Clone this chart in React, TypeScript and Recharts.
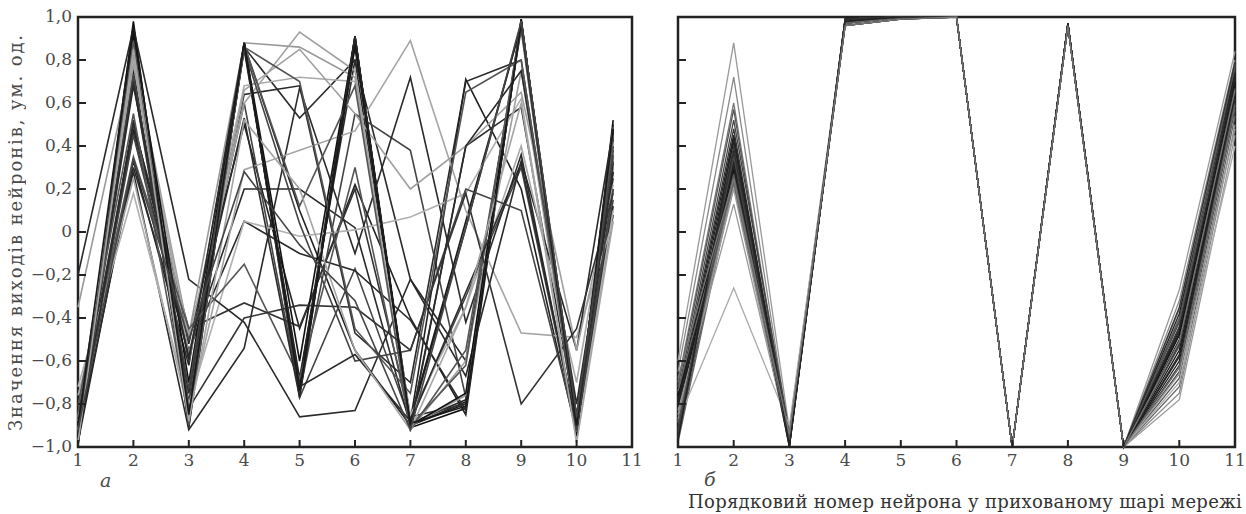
import { LineChart, Line, XAxis, YAxis, ReferenceArea } from 'recharts'

// neuron numbers on the x axis and output values on the y axis
const neuronTicks = [1, 2, 3, 4, 5, 6, 7, 8, 9, 10, 11]
const valueTicks = [-1, -0.8, -0.6, -0.4, -0.2, 0, 0.2, 0.4, 0.6, 0.8, 1]

// panel "а": the last neuron is plotted a bit before the frame edge
const neuronPosA = [1, 2, 3, 4, 5, 6, 7, 8, 9, 10, 10.66]
const neuronPosB = [1, 2, 3, 4, 5, 6, 7, 8, 9, 10, 11]

// panel а — outputs of the hidden layer, one row per sample
const outputsA: number[][] = [
  [-0.99, 0.98, -0.91, 0.88, -0.76, 0.91, -0.91, -0.82, 0.99, -0.93, 0.52],
  [-0.96, 0.94, -0.89, 0.88, -0.74, 0.9, -0.9, -0.8, 0.98, -0.91, 0.47],
  [-0.93, 0.9, -0.87, 0.87, -0.73, 0.89, -0.89, -0.78, 0.97, -0.89, 0.43],
  [-0.9, 0.87, -0.84, 0.86, 0.53, 0.8, -0.88, 0.02, 0.97, -0.88, 0.38],
  [-0.87, 0.83, -0.82, 0.85, -0.7, 0.86, -0.87, 0.05, 0.96, -0.86, 0.33],
  [-0.95, 0.76, -0.88, 0.87, 0.1, -0.55, -0.9, -0.79, 0.98, -0.9, 0.46],
  [-0.92, 0.73, -0.79, 0.88, -0.77, -0.17, -0.88, -0.3, 0.3, -0.92, 0.3],
  [-0.85, 0.7, -0.75, 0.86, -0.68, 0.8, -0.22, -0.6, 0.96, -0.89, 0.4],
  [-0.97, 0.51, -0.52, 0.64, 0.68, -0.47, -0.7, 0.7, 0.8, -0.85, 0.25],
  [-0.94, 0.48, -0.48, 0.5, -0.45, 0.22, -0.4, -0.85, 0.98, -0.87, 0.35],
  [-0.9, 0.46, -0.56, 0.2, 0.2, 0.02, -0.9, 0.4, 0.58, -0.88, 0.28],
  [-0.88, 0.5, -0.45, -0.33, -0.44, 0.2, -0.86, -0.8, 0.98, -0.9, 0.44],
  [-0.93, 0.45, -0.58, 0.6, -0.75, 0.55, 0.38, -0.77, 0.96, -0.91, 0.15],
  [-0.98, 0.33, -0.62, 0.88, -0.7, 0.91, -0.88, 0.71, 0.2, -0.94, 0.12],
  [-0.95, 0.3, -0.55, 0.05, -0.1, -0.18, -0.41, -0.83, 0.98, -0.9, 0.2],
  [-0.8, 0.28, -0.92, -0.54, 0.67, -0.1, 0.72, -0.42, 0.36, -0.92, 0.08],
  [-0.76, 0.25, -0.85, 0.29, 0.38, 0.47, 0.89, 0.1, -0.47, -0.49, 0.05],
  [-0.72, 0.18, -0.8, 0.05, -0.02, 0.01, 0.07, 0.18, 0.62, -0.97, 0.1],
  [-0.2, 0.95, -0.22, -0.42, -0.86, -0.83, -0.22, -0.67, 0.33, -0.55, 0.48],
  [-0.35, 0.82, -0.48, 0.88, 0.86, 0.72, -0.9, -0.76, 0.97, -0.88, 0.42],
  [-0.88, 0.86, -0.57, 0.6, 0.93, 0.75, -0.92, -0.6, 0.75, -0.9, 0.35],
  [-0.92, 0.8, -0.5, 0.68, 0.72, 0.7, -0.85, -0.35, 0.4, -0.7, 0.3],
  [-0.86, 0.78, -0.6, 0.66, 0.85, 0.55, 0.2, 0.4, 0.65, -0.55, 0.22],
  [-0.99, 0.92, -0.7, 0.88, -0.6, 0.91, -0.9, -0.75, 0.99, -0.95, 0.5],
  [-0.97, 0.89, -0.9, 0.87, 0.12, 0.68, -0.92, -0.55, 0.94, -0.93, 0.49],
  [-0.91, 0.72, -0.73, 0.85, 0.04, -0.6, -0.55, 0.2, 0.1, -0.92, 0.2],
  [-0.84, 0.35, -0.45, -0.15, -0.68, 0.3, -0.9, -0.62, 0.98, -0.89, 0.45],
  [-0.96, 0.52, -0.58, 0.53, -0.77, 0.91, -0.91, 0.4, 0.75, -0.8, 0.28],
  [-0.89, 0.7, -0.82, -0.4, -0.34, -0.35, -0.55, 0.18, -0.8, -0.45, 0.18],
  [-0.94, 0.68, -0.6, 0.88, -0.72, -0.57, -0.88, -0.28, 0.32, -0.9, 0.32],
  [-0.81, 0.55, -0.86, 0.86, 0.7, -0.45, -0.75, 0.65, 0.8, -0.88, 0.4],
  [-0.98, 0.85, -0.88, 0.52, 0.2, -0.55, -0.92, -0.35, 0.6, -0.98, 0.05],
  [-0.9, 0.96, -0.85, 0.88, -0.74, 0.87, -0.89, -0.81, 0.97, -0.9, 0.48],
  [-0.92, 0.34, -0.5, 0.28, -0.06, -0.32, -0.92, 0.02, 0.98, -0.86, 0.36],
]
const shadeA = [
  '#111', '#1a1a1a', '#222', '#2a2a2a', '#1a1a1a', '#222', '#444', '#2a2a2a',
  '#2a2a2a', '#222', '#2a2a2a', '#333', '#444', '#222', '#2a2a2a', '#2a2a2a',
  '#a5a5a5', '#b0b0b0', '#2a2a2a', '#999', '#a0a0a0', '#aaa', '#a0a0a0', '#111',
  '#555', '#444', '#555', '#2a2a2a', '#333', '#2a2a2a', '#555', '#a5a5a5', '#1a1a1a', '#444',
]

// panel б — outputs after training
const outputsB: number[][] = [
  [-0.6, 0.88, -0.92, 0.99, 1, 1, -1, 0.97, -1, -0.27, 0.84],
  [-0.65, 0.72, -0.95, 0.98, 1, 1, -1, 0.97, -1, -0.32, 0.8],
  [-0.7, 0.6, -0.97, 0.97, 1, 1, -1, 0.96, -1, -0.36, 0.78],
  [-0.72, 0.57, -0.98, 0.99, 1, 1, -1, 0.97, -1, -0.4, 0.76],
  [-0.75, 0.52, -0.93, 0.96, 0.99, 1, -1, 0.96, -1, -0.42, 0.75],
  [-0.78, 0.48, -0.99, 0.98, 1, 1, -1, 0.97, -1, -0.45, 0.73],
  [-0.8, 0.45, -0.96, 0.97, 1, 1, -1, 0.96, -1, -0.47, 0.72],
  [-0.82, 0.42, -1, 0.99, 1, 1, -1, 0.97, -1, -0.5, 0.7],
  [-0.84, 0.38, -0.97, 0.96, 0.99, 1, -1, 0.96, -1, -0.52, 0.68],
  [-0.86, 0.36, -0.98, 0.98, 1, 1, -1, 0.97, -1, -0.55, 0.66],
  [-0.88, 0.34, -0.95, 0.97, 1, 1, -1, 0.96, -1, -0.57, 0.65],
  [-0.9, 0.32, -0.99, 0.99, 1, 1, -1, 0.97, -1, -0.6, 0.63],
  [-0.92, 0.3, -0.96, 0.96, 0.99, 1, -1, 0.96, -1, -0.62, 0.62],
  [-0.94, 0.28, -1, 0.98, 1, 1, -1, 0.97, -1, -0.65, 0.6],
  [-0.96, 0.26, -0.97, 0.97, 1, 1, -1, 0.96, -1, -0.68, 0.57],
  [-0.98, 0.24, -0.98, 0.99, 1, 1, -1, 0.97, -1, -0.72, 0.54],
  [-0.85, 0.22, -0.94, 0.96, 0.99, 1, -1, 0.96, -1, -0.75, 0.5],
  [-0.87, 0.2, -0.99, 0.98, 1, 1, -1, 0.97, -1, -0.78, 0.45],
  [-0.88, -0.26, -0.9, 0.97, 1, 1, -1, 0.96, -1, -0.7, 0.4],
  [-0.83, 0.13, -0.97, 0.98, 1, 1, -1, 0.97, -1, -0.66, 0.48],
  [-0.79, 0.33, -0.98, 0.98, 1, 1, -1, 0.97, -1, -0.38, 0.74],
  [-0.91, 0.37, -0.96, 0.97, 1, 1, -1, 0.96, -1, -0.44, 0.71],
  [-0.76, 0.29, -0.99, 0.99, 1, 1, -1, 0.97, -1, -0.48, 0.69],
  [-0.93, 0.35, -0.97, 0.96, 0.99, 1, -1, 0.96, -1, -0.53, 0.67],
  [-0.81, 0.31, -1, 0.98, 1, 1, -1, 0.97, -1, -0.58, 0.64],
  [-0.89, 0.27, -0.95, 0.97, 1, 1, -1, 0.96, -1, -0.41, 0.77],
  [-0.95, 0.4, -0.98, 0.99, 1, 1, -1, 0.97, -1, -0.35, 0.79],
  [-0.74, 0.23, -0.97, 0.97, 1, 1, -1, 0.96, -1, -0.63, 0.59],
  [-0.97, 0.44, -0.99, 0.98, 1, 1, -1, 0.97, -1, -0.46, 0.7],
  [-0.68, 0.25, -0.94, 0.96, 0.99, 1, -1, 0.96, -1, -0.51, 0.66],
]
const shadeB = [
  '#999', '#888', '#777', '#555', '#444', '#333', '#222', '#222', '#1a1a1a', '#111',
  '#222', '#1a1a1a', '#333', '#444', '#555', '#666', '#888', '#999', '#aaa', '#999',
  '#222', '#333', '#111', '#444', '#222', '#555', '#333', '#666', '#222', '#777',
]

const serif = '"DejaVu Serif", "Liberation Serif", serif'
const ink = '#4a4a4a'

const fmtValue = (v: number) =>
  v === 0 ? '0' : v.toFixed(1).replace('.', ',').replace('-', '\u2212')

function toRows(pos: number[], lines: number[][]) {
  return pos.map((x, i) => {
    const row: Record<string, number> = { x }
    lines.forEach((l, j) => (row['s' + j] = l[i]))
    return row
  })
}

function YTick({ x, y, payload, showLabel }: any) {
  return (
    <g>
      <line x1={x + 6} x2={x + 14} y1={y} y2={y} stroke="#222" strokeWidth={2} />
      {showLabel && (
        <text x={x} y={y} dy={5} textAnchor="end" fill={ink} fontSize={17} fontFamily={serif}>
          {fmtValue(payload.value)}
        </text>
      )}
    </g>
  )
}

function XTick({ x, y, payload }: any) {
  return (
    <g>
      <line x1={x} x2={x} y1={y - 4} y2={y - 11} stroke="#222" strokeWidth={2} />
      <text x={x} y={y} dy={15} textAnchor="middle" fill={ink} fontSize={17} fontFamily={serif}>
        {payload.value}
      </text>
    </g>
  )
}

function Panel({ rows, count, shades, width, yWidth, right, labels, strokeW }: any) {
  return (
    <LineChart width={width} height={514} data={rows} margin={{ top: 17, right, bottom: 0, left: 0 }}>
      <XAxis
        type="number"
        dataKey="x"
        domain={[1, 11]}
        ticks={neuronTicks}
        height={67}
        axisLine={false}
        tickLine={false}
        tickSize={0}
        tickMargin={4}
        tick={<XTick />}
        interval={0}
      />
      <YAxis
        type="number"
        domain={[-1, 1]}
        ticks={valueTicks}
        width={yWidth}
        axisLine={false}
        tickLine={false}
        tickSize={0}
        tickMargin={6}
        tick={<YTick showLabel={labels} />}
        interval={0}
      />
      {Array.from({ length: count }, (_, j) => (
        <Line
          key={j}
          type="linear"
          dataKey={'s' + j}
          stroke={shades[j]}
          strokeWidth={strokeW}
          dot={false}
          isAnimationActive={false}
        />
      ))}
      <ReferenceArea
        x1={1}
        x2={11}
        y1={-1}
        y2={1}
        fill="none"
        fillOpacity={0}
        stroke="#222"
        strokeWidth={2.5}
        ifOverflow="visible"
      />
    </LineChart>
  )
}

export default function App() {
  const rowsA = toRows(neuronPosA, outputsA)
  const rowsB = toRows(neuronPosB, outputsB)
  return (
    <div style={{ position: 'absolute', left: 0, top: 0, width: 1246, height: 514, background: '#fff', fontFamily: serif }}>
      <div style={{ position: 'absolute', left: 0, top: 0 }}>
        <Panel rows={rowsA} count={outputsA.length} shades={shadeA} width={652} yWidth={78} right={20} labels strokeW={1.6} />
      </div>
      <div style={{ position: 'absolute', left: 640, top: 0 }}>
        <Panel rows={rowsB} count={outputsB.length} shades={shadeB} width={606} yWidth={38} right={11} labels={false} strokeW={1.3} />
      </div>
      <div
        style={{
          position: 'absolute',
          left: 5,
          top: 17,
          height: 430,
          width: 26,
          writingMode: 'vertical-rl',
          transform: 'rotate(180deg)',
          textAlign: 'center',
          fontSize: 18,
          letterSpacing: 1.9,
          color: ink,
          whiteSpace: 'nowrap',
        }}
      >
        Значення виходів нейронів, ум. од.
      </div>
      <div style={{ position: 'absolute', left: 100, top: 469, fontSize: 19, fontStyle: 'italic', color: ink }}>а</div>
      <div style={{ position: 'absolute', left: 704, top: 468, fontSize: 19, fontStyle: 'italic', color: ink }}>б</div>
      <div style={{ position: 'absolute', left: 688, top: 491, fontSize: 18, letterSpacing: 0.3, color: '#333', whiteSpace: 'nowrap' }}>
        Порядковий номер нейрона у прихованому шарі мережі
      </div>
    </div>
  )
}
